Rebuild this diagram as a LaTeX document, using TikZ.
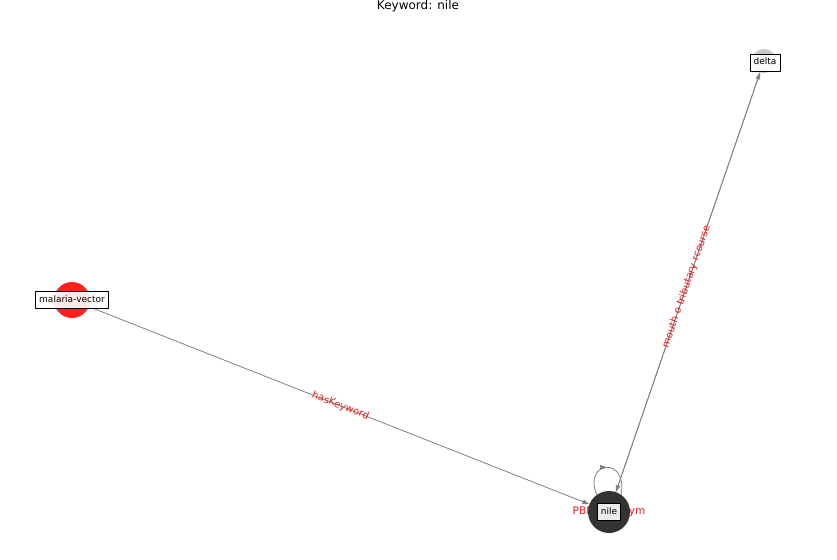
\documentclass[tikz,border=0pt]{standalone}
\usepackage{fontspec}
\setmainfont{DejaVu Sans}
\usetikzlibrary{arrows.meta,decorations.markings}
\definecolor{edgegray}{RGB}{128,128,128}
\definecolor{lblred}{RGB}{230,30,30}
\definecolor{nodered}{RGB}{255,32,32}
\definecolor{nodedark}{RGB}{51,51,51}
\definecolor{nodelight}{RGB}{200,200,200}
\begin{document}
\begin{tikzpicture}[x=1pt,y=-1pt,
  dot/.style={circle, inner sep=0pt, outer sep=0pt, draw=none},
  tag/.style={draw=black, line width=0.7pt, fill=white, fill opacity=0.9, text opacity=1, font=\fontsize{9}{10}\selectfont, inner xsep=3.5pt, inner ysep=4pt, text height=7pt, text depth=2pt},
  edge/.style={draw=edgegray, line width=0.8pt, -{Triangle[length=7pt,width=4.5pt]}},
  elabel/.style={text=lblred, font=\fontsize{10}{12}\selectfont, inner sep=0pt}]
\useasboundingbox (0,0) rectangle (837,559);
\node[font=\fontsize{12}{14}\selectfont, inner sep=0pt] (title) at (418,6) {Keyword: nile};
% self-loop label, lying under the node circle
\node[elabel, font=\fontsize{10.5}{12}\selectfont] (lloop) at (609,512) {PBN synonym};
% circles
\node[dot, fill=nodered, minimum size=36pt] (mal) at (72,300) {};
\node[dot, fill=nodedark, minimum size=42pt] (nile) at (609,512) {};
\node[dot, fill=nodelight, minimum size=24pt] (delta) at (764,61) {};
% edges
\draw[edge] (mal) -- (nile);
\draw[edge] (nile) -- (delta);
\draw[edge] (delta) -- (nile);
\draw[draw=edgegray, line width=0.8pt, postaction={decorate},
  decoration={markings, mark=at position 0.5 with {\arrow{Triangle[length=7pt,width=4.5pt]}}}]
  (nile.125) .. controls +(-15,-33) and +(7,-40) .. (nile.55);
% edge labels
\path (mal.center) -- (nile.center) node[midway, sloped, elabel] (lhas) {hasKeyword};
\path (nile.center) -- (delta.center) node[midway, sloped, elabel] (lmouth) {mouth o tributary rcourse};
% tags
\node[tag] (malbox) at (72,300) {malaria-vector};
\node[tag] (nilebox) at (609,512) {nile};
\node[tag] (deltabox) at (765,62.5) {delta};
\end{tikzpicture}
\end{document}
